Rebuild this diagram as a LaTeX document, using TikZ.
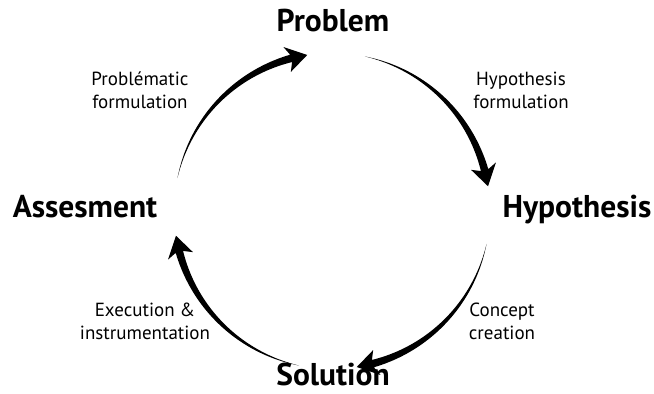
\documentclass[tikz,border=0pt]{standalone}
\usepackage{fontspec}
\setmainfont{PT Sans}
\newcommand{\cycarrow}[2]{% #1 tail angle, #2 tip angle (clockwise)
  \pgfmathsetmacro\cyna{#2+6}%
  \pgfmathsetmacro\cyba{#2+7.5}%
  \fill[shift={(c)}] plot[domain=#1:\cyna, samples=50] (\x:{158+3.8*(#1-\x)/(#1-\cyna)})
    -- (\cyba:171) -- (#2:158) -- (\cyba:145)
    -- plot[domain=\cyna:#1, samples=50] (\x:{158-3.8*(#1-\x)/(#1-\cyna)}) -- cycle;}
\begin{document}
\begin{tikzpicture}[x=1pt,y=1pt,
  stage/.style={font=\fontsize{31.5}{33}\selectfont\bfseries, inner sep=0pt, anchor=base},
  lbl/.style={font=\fontsize{19}{23}\selectfont, align=center, inner sep=0pt}]
\useasboundingbox (0,0) rectangle (654,394);
\coordinate (c) at (332,183);
\node[stage] (prob) at (333,362) {Problem};
\node[stage] (hyp) at (577,176) {Hypothesis};
\node[stage] (sol) at (333,9) {Solution};
\node[stage] (ass) at (85,176) {Assesment};
\node[lbl] (l1) at (140,304) {Problématic\\formulation};
\node[lbl] (l2) at (521,304) {Hypothesis\\formulation};
\node[lbl] (l3) at (502,73) {Concept\\creation};
\node[lbl] (l4) at (145,73) {Execution \&\\instrumentation};
\cycarrow{168}{99}
\cycarrow{78}{9}
\cycarrow{-12}{-81}
\cycarrow{-102}{-171}
\end{tikzpicture}
\end{document}
